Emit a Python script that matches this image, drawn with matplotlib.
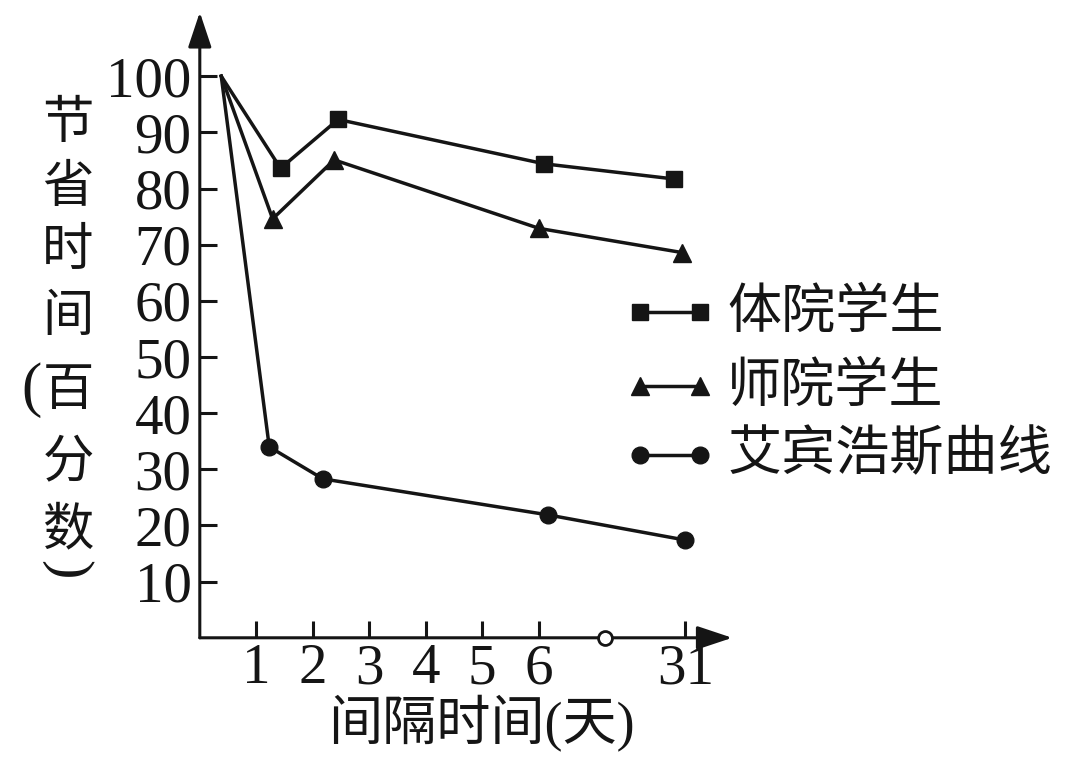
import matplotlib.pyplot as plt
from matplotlib.lines import Line2D

plt.rcParams['font.family'] = ['Liberation Serif', 'Noto Sans CJK SC']
ink = '#151515'

# axis ticks (31 days is drawn after the axis break)
x_ticks = [1, 2, 3, 4, 5, 6, 8.6]
x_labels = ['1', '2', '3', '4', '5', '6', '31']
y_ticks = [10, 20, 30, 40, 50, 60, 70, 80, 90, 100]
break_x = 7.17

# series (x in axis units, first point is the shared start)
ti_x = [0.38, 1.43, 2.45, 6.10, 8.40]
ti_y = [100, 83.6, 92.3, 84.4, 81.7]
shi_x = [0.38, 1.29, 2.38, 6.01, 8.54]
shi_y = [100, 74.6, 85.1, 72.9, 68.6]
eb_x = [0.38, 1.23, 2.18, 6.16, 8.60]
eb_y = [100, 34.0, 28.3, 21.9, 17.4]

names = ['体院学生', '师院学生', '艾宾浩斯曲线']
markers = ['s', '^', 'o']
msizes = [11.5, 13, 12]

fig = plt.figure(figsize=(10.8, 7.62), dpi=100)
ax = fig.add_axes([0.185, 0.163, 0.493, 0.821])
ax.set_xlim(0, 9.43)
ax.set_ylim(0, 111.4)
for s in ax.spines.values():
    s.set_visible(False)

# axes with arrow heads
arrow = dict(arrowstyle='-|>,head_length=0.6,head_width=0.2', lw=2.2,
             color=ink, mutation_scale=36, shrinkA=0, shrinkB=0)
ax.annotate('', xy=(9.43, 0), xytext=(0, 0), arrowprops=arrow, annotation_clip=False)
ax.annotate('', xy=(0, 111.4), xytext=(0, 0), arrowprops=arrow, annotation_clip=False)
ax.plot(break_x, 0, 'o', mfc='white', mec=ink, mew=2, ms=10, clip_on=False, zorder=6)

ax.set_xticks(x_ticks, x_labels)
ax.set_yticks(y_ticks)
ax.tick_params(axis='both', direction='in', length=12, width=2.2, color=ink,
               labelcolor=ink, labelsize=41)
ax.tick_params(axis='x', pad=4)
ax.tick_params(axis='y', pad=6)

for xs, ys, m, ms in zip([ti_x, shi_x, eb_x], [ti_y, shi_y, eb_y], markers, msizes):
    ax.plot(xs, ys, color=ink, lw=2.5, marker=m, ms=ms, mfc=ink, mec=ink,
            markevery=slice(1, None), clip_on=False)

# legend drawn by hand
W, H = 1080, 762
leg_rows = [312, 386, 455]
for name, m, ms, yy in zip(names, markers, msizes, leg_rows):
    fig.add_artist(Line2D([640 / W, 700 / W], [1 - yy / H, 1 - yy / H],
                          transform=fig.transFigure, color=ink, lw=2.5,
                          marker=m, ms=ms, mfc=ink, mec=ink))
    fig.text(727 / W, 1 - yy / H, name, ha='left', va='center', fontsize=39,
             color=ink, family='Noto Sans CJK SC')

# vertical y label, one character per row
ylab_chars = ['节', '省', '时', '间', '百', '分', '数']
ylab_rows = [123, 187, 250, 316, 390, 462, 530]
for ch, yy in zip(ylab_chars, ylab_rows):
    fig.text(68 / W, 1 - yy / H, ch, ha='center', va='center', fontsize=37,
             color=ink, family='Noto Sans CJK SC')
fig.text(31 / W, 1 - 390 / H, '(', ha='center', va='center', fontsize=44, color=ink)
fig.text(66 / W, 1 - 570 / H, ')', ha='center', va='center', fontsize=42,
         color=ink, rotation=-90)

fig.text(481 / W, 1 - 724 / H, '间隔时间(天)', ha='center', va='center',
         fontsize=39, color=ink)

fig.savefig('out.png', dpi=100, facecolor='white')
